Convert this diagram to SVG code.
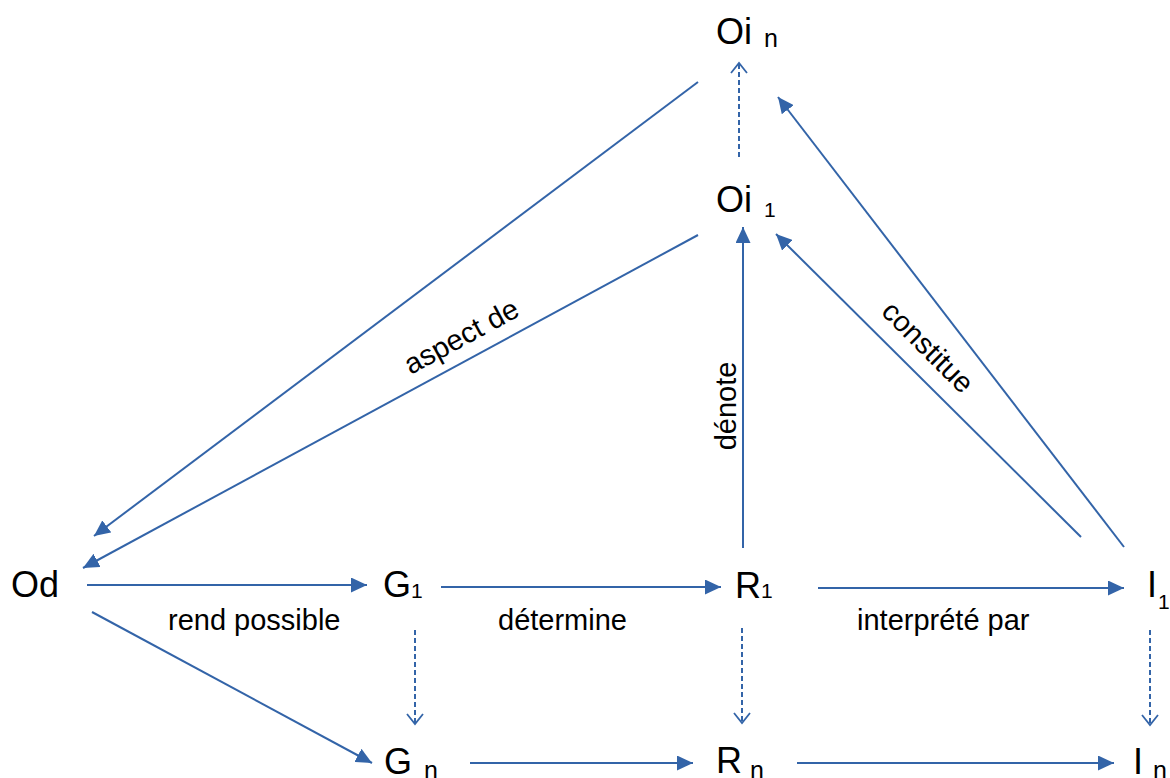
<svg xmlns="http://www.w3.org/2000/svg" width="1170" height="778" viewBox="0 0 1170 778">
<style>
  .lbl { font-family: "Liberation Sans", Arial, sans-serif; fill: #000; }
  .main { font-size: 36px; }
  .sub { font-size: 21px; }
  .subn { font-size: 25px; }
  .txt { font-size: 29px; }
  .ln { stroke: #3364A8; stroke-width: 2; fill: none; }
  .dash { stroke: #3364A8; stroke-width: 2; fill: none; stroke-dasharray: 5 3; }
</style>
<defs>
  <marker id="solid" markerUnits="userSpaceOnUse" markerWidth="17" markerHeight="15" refX="16" refY="7.5" orient="auto">
    <path d="M0,0 L16,7.5 L0,15 Z" fill="#3364A8"/>
  </marker>
  <marker id="open" markerUnits="userSpaceOnUse" markerWidth="14" markerHeight="18" refX="11" refY="9" orient="auto">
    <path d="M1,1 L11,9 L1,17" fill="none" stroke="#3364A8" stroke-width="1.8"/>
  </marker>
</defs>
<rect width="1170" height="778" fill="#fff"/>

<g id="connectors">
  <line class="ln" x1="87" y1="585" x2="367" y2="585" marker-end="url(#solid)"/>
  <line class="ln" x1="441" y1="587" x2="721" y2="587" marker-end="url(#solid)"/>
  <line class="ln" x1="818" y1="588" x2="1124" y2="588" marker-end="url(#solid)"/>
  <line class="ln" x1="470" y1="763" x2="693" y2="763" marker-end="url(#solid)"/>
  <line class="ln" x1="797" y1="763" x2="1114" y2="763" marker-end="url(#solid)"/>
  <line class="ln" x1="92" y1="612" x2="372" y2="763" marker-end="url(#solid)"/>
  <line class="dash" x1="415" y1="630" x2="415" y2="724" marker-end="url(#open)"/>
  <line class="dash" x1="742" y1="628" x2="742" y2="723" marker-end="url(#open)"/>
  <line class="dash" x1="1150" y1="630" x2="1150" y2="725" marker-end="url(#open)"/>
  <line class="dash" x1="739" y1="157" x2="739" y2="63" marker-end="url(#open)"/>
  <line class="ln" x1="743" y1="548" x2="743" y2="227" marker-end="url(#solid)"/>
  <line class="ln" x1="1081" y1="537" x2="776" y2="234" marker-end="url(#solid)"/>
  <line class="ln" x1="1124" y1="547" x2="778" y2="97" marker-end="url(#solid)"/>
  <line class="ln" x1="698" y1="82" x2="94" y2="536" marker-end="url(#solid)"/>
  <line class="ln" x1="698" y1="235" x2="83" y2="568" marker-end="url(#solid)"/>
</g>

<g id="edge-labels" class="lbl txt">
  <text x="168" y="630">rend possible</text>
  <text x="498" y="630">détermine</text>
  <text x="857" y="630">interprété par</text>
  <text x="466" y="345" text-anchor="middle" transform="rotate(-28.5 466 345)">aspect de</text>
  <text x="921" y="354" text-anchor="middle" transform="rotate(45 921 354)">constitue</text>
  <text x="736" y="406" text-anchor="middle" transform="rotate(-90 736 406)">dénote</text>
</g>

<g id="node-Oin" class="lbl"><text x="716" y="44" class="main">Oi</text><text x="764" y="47" class="subn">n</text></g>
<g id="node-Oi1" class="lbl"><text x="716" y="212" class="main">Oi</text><text x="764" y="217" class="sub">1</text></g>
<g id="node-Od" class="lbl"><text x="11" y="597" class="main">Od</text></g>
<g id="node-G1" class="lbl"><text x="383" y="597" class="main">G</text><text x="411" y="598" class="sub">1</text></g>
<g id="node-R1" class="lbl"><text x="735" y="598" class="main">R</text><text x="761" y="598" class="sub">1</text></g>
<g id="node-I1" class="lbl"><text x="1147" y="597" class="main">I</text><text x="1158" y="609" class="sub">1</text></g>
<g id="node-Gn" class="lbl"><text x="384" y="774" class="main">G</text><text x="424" y="779" class="subn">n</text></g>
<g id="node-Rn" class="lbl"><text x="716" y="773" class="main">R</text><text x="750" y="779" class="subn">n</text></g>
<g id="node-In" class="lbl"><text x="1133" y="774" class="main">I</text><text x="1153" y="779" class="subn">n</text></g>
</svg>
